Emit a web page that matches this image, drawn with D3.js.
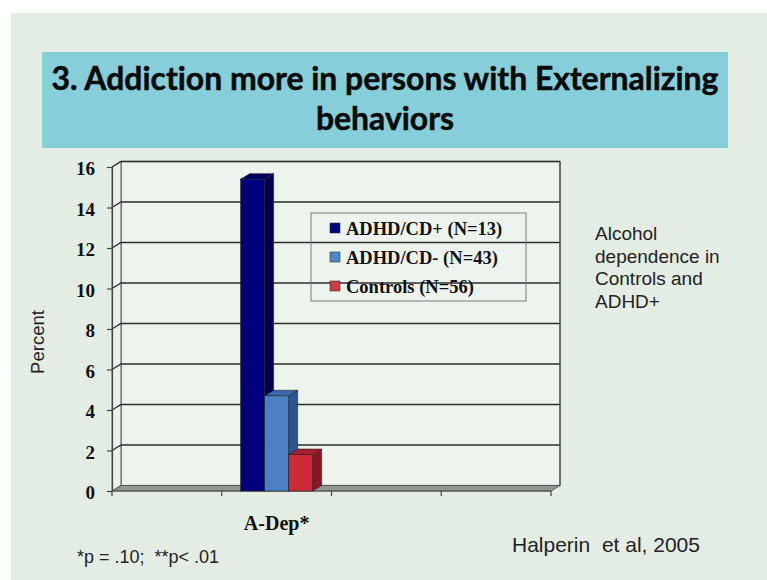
<!DOCTYPE html>
<html>
<head>
<meta charset="utf-8">
<script src="https://cdn.jsdelivr.net/npm/d3@7"></script>
<style>
  html, body { margin: 0; padding: 0; background: #ffffff; }
  svg { display: block; }
  svg text { font-variant-ligatures: none; font-feature-settings: "liga" 0, "clig" 0, "dlig" 0; }
</style>
</head>
<body>
<svg id="chart" width="767" height="580"></svg>
<script>
// ---- data ----
const titleLines = ["3. Addiction more in persons with Externalizing", "behaviors"];
const slots = ["", "A-Dep*", "", ""];            // category slots on the x axis
const seriesNames = ["ADHD/CD+ (N=13)", "ADHD/CD- (N=43)", "Controls (N=56)"];
const seriesValues = [15.4, 4.7, 1.8];           // percent, category "A-Dep*"
const yTicks = [0, 2, 4, 6, 8, 10, 12, 14, 16];
const yLabel = "Percent";
const sideNote = ["Alcohol", "dependence in", "Controls and", "ADHD+"];
const footnote = "*p = .10;  **p< .01";
const citation = "Halperin  et al, 2005";

// ---- styles ----
const faces = [
  { front: "#00007e", side: "#00004a", top: "#000062", swatch: "#000080" },
  { front: "#4a80c6", side: "#2c5690", top: "#3a6aae", swatch: "#4f86c8" },
  { front: "#cf2a3a", side: "#8a1622", top: "#a81e2c", swatch: "#d03a46" }
];

const svg = d3.select("#chart");

// slide background
svg.append("rect").attr("x", 11).attr("y", 13).attr("width", 756).attr("height", 567)
  .attr("fill", "#e3ede3");

// title banner
svg.append("rect").attr("x", 42).attr("y", 52).attr("width", 686).attr("height", 96)
  .attr("fill", "#86cfda");
const titleFont = "Lato, 'Open Sans', sans-serif";
const t1 = svg.append("text").attr("x", 385).attr("y", 90)
  .attr("text-anchor", "middle").attr("font-family", titleFont)
  .attr("font-weight", 700).attr("font-size", 34).attr("fill", "#0a0a0a")
  .attr("stroke", "#0a0a0a").attr("stroke-width", 0.5)
  .style("font-variant-ligatures", "none")
  .text(titleLines[0]);
// fit the first line to the banner's text width
const w1 = t1.node().getComputedTextLength();
const titleSize = Math.min(36, 34 * 667 / w1);
t1.attr("font-size", titleSize);
svg.append("text").attr("x", 385).attr("y", 130)
  .attr("text-anchor", "middle").attr("font-family", titleFont)
  .attr("font-weight", 700).attr("font-size", titleSize).attr("fill", "#0a0a0a")
  .attr("stroke", "#0a0a0a").attr("stroke-width", 0.5)
  .text(titleLines[1]);

// ---- 3D chart geometry ----
const left = 112, right = 551, base = 491, topY = 167;
const dx = 9, dy = -5.5;    // depth offset of the back wall

const y = d3.scaleLinear().domain([0, 16]).range([base, topY]);
const x = d3.scaleBand().domain(d3.range(slots.length)).range([left, right]).paddingInner(0).paddingOuter(0);
// bars occupy the central part of the category band
const groupW = 72;
const barScale = d3.scaleBand().domain(d3.range(seriesNames.length)).range([0, groupW]).padding(0);

const g = svg.append("g");

// back wall
g.append("rect").attr("x", left + dx).attr("y", topY + dy)
  .attr("width", right - left).attr("height", base - topY)
  .attr("fill", "#edf4ed").attr("stroke", "#5a5a5a").attr("stroke-width", 1.2);
// left wall
g.append("path")
  .attr("d", `M${left},${topY}L${left + dx},${topY + dy}L${left + dx},${base + dy}L${left},${base}Z`)
  .attr("fill", "#e9f1e9").attr("stroke", "#5a5a5a").attr("stroke-width", 1);
// floor
g.append("path")
  .attr("d", `M${left},${base}L${left + dx},${base + dy}L${right + dx},${base + dy}L${right},${base}Z`)
  .attr("fill", "#959795").attr("stroke", "#555").attr("stroke-width", 1);

// gridlines on the walls
yTicks.filter(d => d > 0).forEach(v => {
  const fy = y(v);
  g.append("path")
    .attr("d", `M${left},${fy}L${left + dx},${fy + dy}L${right + dx},${fy + dy}`)
    .attr("fill", "none").attr("stroke", "#2e2e2e").attr("stroke-width", 1.3);
});
// right edge of the back wall
g.append("line").attr("x1", right + dx).attr("x2", right + dx)
  .attr("y1", topY + dy).attr("y2", base + dy)
  .attr("stroke", "#555").attr("stroke-width", 1.2);

// y axis
const yAxis = d3.axisLeft(y).tickValues(yTicks).tickSize(5).tickPadding(12).tickFormat(d3.format("d"));
const ya = svg.append("g").attr("transform", `translate(${left},0)`).call(yAxis);
ya.select(".domain").attr("stroke", "#444").attr("stroke-width", 1.2);
ya.selectAll(".tick line").attr("stroke", "#444").attr("stroke-width", 1.2);
ya.selectAll(".tick text")
  .attr("font-family", "'Liberation Serif', 'Times New Roman', serif")
  .attr("font-weight", 700).attr("font-size", 19).attr("fill", "#111")
  .attr("dy", "0.42em");

// x axis ticks at slot boundaries
const bounds = d3.range(slots.length + 1).map(i => left + i * x.step());
svg.selectAll(".xtick").data(bounds).join("line").attr("class", "xtick")
  .attr("x1", d => d).attr("x2", d => d).attr("y1", base).attr("y2", base + 5)
  .attr("stroke", "#444").attr("stroke-width", 1.2);
svg.append("line").attr("x1", left).attr("x2", right).attr("y1", base).attr("y2", base)
  .attr("stroke", "#555").attr("stroke-width", 1);
svg.selectAll(".xlab").data(slots).join("text").attr("class", "xlab")
  .attr("x", (d, i) => x(i) + x.bandwidth() / 2).attr("y", 530)
  .attr("text-anchor", "middle")
  .attr("font-family", "'Liberation Serif', 'Times New Roman', serif")
  .attr("font-weight", 700).attr("font-size", 20).attr("fill", "#111")
  .text(d => d);

// bars (3D boxes) for the "A-Dep*" slot
const slotIndex = slots.indexOf("A-Dep*");
const gx0 = x(slotIndex) + (x.bandwidth() - groupW) / 2;
const bw = barScale.bandwidth();
const bars = svg.append("g");
seriesValues.forEach((v, i) => {
  const x0 = gx0 + barScale(i), x1 = x0 + bw;
  const yt = y(v), yb = base;
  const c = faces[i];
  // side face
  bars.append("path")
    .attr("d", `M${x1},${yb}L${x1 + dx},${yb + dy}L${x1 + dx},${yt + dy}L${x1},${yt}Z`)
    .attr("fill", c.side).attr("stroke", "#222").attr("stroke-width", 0.6);
  // top face
  bars.append("path")
    .attr("d", `M${x0},${yt}L${x0 + dx},${yt + dy}L${x1 + dx},${yt + dy}L${x1},${yt}Z`)
    .attr("fill", c.top).attr("stroke", "#222").attr("stroke-width", 0.6);
  // front face
  bars.append("rect").attr("x", x0).attr("y", yt).attr("width", bw).attr("height", yb - yt)
    .attr("fill", c.front).attr("stroke", "#222").attr("stroke-width", 0.6);
});

// legend (transparent, gridlines show through)
const lg = svg.append("g");
lg.append("rect").attr("x", 311).attr("y", 213).attr("width", 215).attr("height", 88)
  .attr("fill", "none").attr("stroke", "#7a7a7a").attr("stroke-width", 1);
seriesNames.forEach((name, i) => {
  const cy = 228 + i * 29;
  lg.append("rect").attr("x", 330).attr("y", cy - 5).attr("width", 10).attr("height", 10)
    .attr("fill", faces[i].swatch).attr("stroke", "#333").attr("stroke-width", 0.6);
  lg.append("text").attr("x", 346).attr("y", cy + 6.5)
    .attr("font-family", "'Liberation Serif', 'Times New Roman', serif")
    .attr("font-weight", 700).attr("font-size", 18.5).attr("fill", "#111")
    .text(name);
});

// axis title
svg.append("text").attr("transform", "translate(44,342) rotate(-90)")
  .attr("text-anchor", "middle")
  .attr("font-family", "'Liberation Sans', Arial, sans-serif")
  .attr("font-size", 18.5).attr("fill", "#222").text(yLabel);

// side note
svg.append("g").selectAll("text").data(sideNote).join("text")
  .attr("x", 595).attr("y", (d, i) => 240 + i * 22.5)
  .attr("font-family", "'Liberation Sans', Arial, sans-serif")
  .attr("font-size", 19).attr("fill", "#222").text(d => d);

// footnote and citation
svg.append("text").attr("x", 77).attr("y", 563)
  .attr("font-family", "'Liberation Sans', Arial, sans-serif")
  .attr("font-size", 18).attr("fill", "#222")
  .style("white-space", "pre").text(footnote);
svg.append("text").attr("x", 512).attr("y", 552)
  .attr("font-family", "'Liberation Sans', Arial, sans-serif")
  .attr("font-size", 21).attr("fill", "#222")
  .style("white-space", "pre").text(citation);
</script>
</body>
</html>
